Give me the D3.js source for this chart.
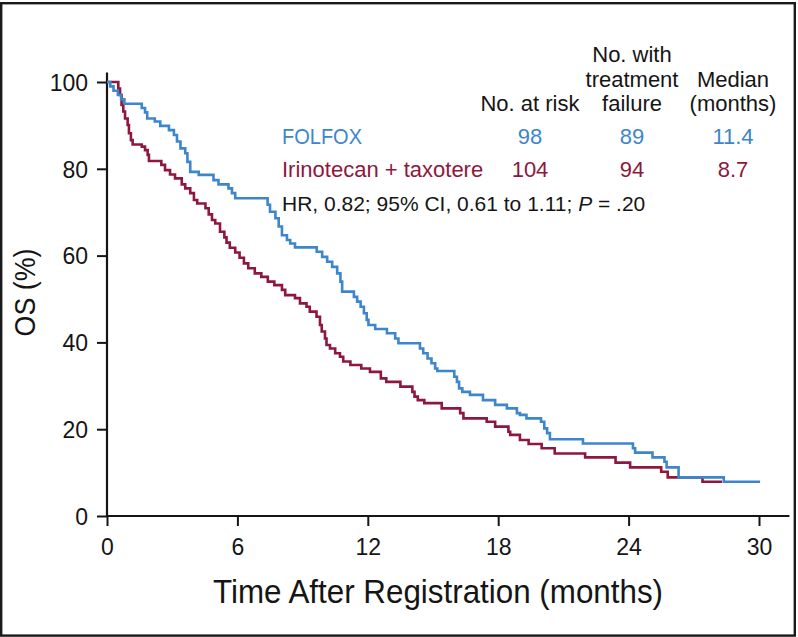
<!DOCTYPE html>
<html><head><meta charset="utf-8">
<script src="https://cdn.jsdelivr.net/npm/d3@7"></script>
<style>
html,body{margin:0;padding:0;background:#fff;}
svg{display:block;font-family:"Liberation Sans",Arial,Helvetica,sans-serif;}
</style></head>
<body><svg id="chart" width="798" height="637"></svg>
<script>
// ---- data ----
const xTicks = [0, 6, 12, 18, 24, 30];
const yTicks = [0, 20, 40, 60, 80, 100];
const xTitle = "Time After Registration (months)";
const yTitle = "OS (%)";

const folfoxTime = [0,0.15,0.3,0.5,0.65,0.8,1.6,1.75,1.85,2.2,2.45,2.85,3.08,3.22,3.38,3.6,3.7,3.83,4.22,4.9,5.13,5.59,5.75,5.9,
  7.39,7.5,7.75,7.9,8.05,8.28,8.43,8.65,9.65,9.9,10.13,10.36,10.59,10.74,10.82,11.36,11.51,11.67,11.82,11.95,12.03,12.34,12.88,13.26,13.41,
  14.4,14.55,14.75,14.93,15.1,15.2,15.98,16.1,16.2,16.35,16.7,17.3,17.86,18.4,18.86,19.0,19.3,19.97,20.12,20.25,20.38,
  21.9,24.2,24.3,25.1,25.65,25.75,26.3,28.38,30.05];
const folfoxSurv = [100,99,98,97,96,95,94,93,91.6,90.9,89.9,88.9,87.8,86.3,84.7,83.6,81.6,79.3,78.6,77.4,76.4,75.5,74.4,73.2,
  71.7,70.1,68.6,66.7,64.7,63.6,62.8,61.9,60.9,59.7,58.6,57.4,55.9,54.0,51.7,50.5,49.4,48.2,46.7,45.2,44.0,43.1,42.1,40.9,39.8,
  38.6,37.5,36.3,35.2,34.0,33.4,32.1,30.9,29.4,28.6,27.9,26.7,25.6,24.8,23.7,23.3,22.5,21.7,20.2,19.1,17.7,
  16.7,15.6,14.6,13.5,12.5,11.2,8.9,7.9,7.9];

const irinoTime = [0,0.52,0.6,0.67,0.75,0.83,0.95,1.01,1.1,1.18,1.6,1.75,1.87,1.93,2.5,2.67,2.9,3.13,3.44,3.6,3.83,4.0,4.15,4.53,4.68,4.83,4.98,
  5.2,5.4,5.5,5.65,5.9,6.1,6.3,6.5,6.8,7.1,7.4,7.7,8.05,8.2,8.65,8.88,9.18,9.33,9.64,9.8,9.88,10.03,10.1,10.26,10.5,10.72,10.87,
  11.2,11.7,12.1,12.6,12.85,13.5,14.05,14.15,14.3,14.6,15.4,16.25,16.4,17.47,17.86,18.47,18.55,19.0,19.4,20.0,20.6,
  22.0,23.4,24.07,25.5,25.8,27.4,28.3];
const irinoSurv = [100,98.5,97,94.7,93.2,91.6,90.1,88.2,86.6,85.6,85.1,84.3,83.2,81.8,80.9,79.7,78.7,77.8,76.4,75.5,74.4,72.8,72.0,70.9,69.5,68.2,67.4,
  65.5,64.2,63.0,61.8,60.7,59.5,58.2,57.1,55.9,55.1,54.0,53.2,52.1,50.9,50.2,49.0,48.2,47.1,45.9,44.0,42.5,40.9,39.4,38.6,37.5,36.7,35.6,
  34.8,34.0,33.2,31.7,30.9,29.8,28.6,27.5,26.7,26.0,24.8,23.7,22.5,21.7,20.6,19.4,18.7,17.5,16.6,15.6,14.4,
  13.5,12.3,11.2,10.2,8.9,7.9,7.9];

const seriesNames = ["FOLFOX", "Irinotecan + taxotere"];
const seriesColors = ["#3d86cb", "#8e1740"];
const headerCol1 = ["No. at risk"];
const headerCol2 = ["No. with", "treatment", "failure"];
const headerCol3 = ["Median", "(months)"];
const folfoxStats = ["98", "89", "11.4"];
const irinoStats = ["104", "94", "8.7"];
const hrText = ["HR, 0.82; 95% CI, 0.61 to 1.11; ", "P", " = .20"];

// ---- drawing ----
const svg = d3.select("#chart");
const W = 798, H = 637;
const ink = "#151515";

svg.append("rect").attr("x", 1.2).attr("y", 3.2).attr("width", W - 4.4).attr("height", H - 4.6)
  .attr("fill", "#fff").attr("stroke", "#1a1a1a").attr("stroke-width", 2.4);

const x = d3.scaleLinear().domain([0, 30]).range([107, 759]);
const y = d3.scaleLinear().domain([0, 100]).range([516, 82]);

// axis lines (extend slightly beyond the data range as in the original)
svg.append("line").attr("x1", x(0)).attr("x2", x(0)).attr("y1", y(0)).attr("y2", y(102.2))
  .attr("stroke", ink).attr("stroke-width", 2.2);
svg.append("line").attr("x1", x(0)).attr("x2", x(31.4)).attr("y1", y(0)).attr("y2", y(0))
  .attr("stroke", ink).attr("stroke-width", 2.2);

const yAxis = svg.append("g").attr("transform", `translate(${x(0)},0)`)
  .call(d3.axisLeft(y).tickValues(yTicks).tickSize(10).tickPadding(9).tickFormat(d3.format("d")));
const xAxis = svg.append("g").attr("transform", `translate(0,${y(0)})`)
  .call(d3.axisBottom(x).tickValues(xTicks).tickSize(10).tickPadding(13).tickFormat(d3.format("d")));
[yAxis, xAxis].forEach(g => {
  g.select(".domain").remove();
  g.selectAll(".tick line").attr("stroke", ink).attr("stroke-width", 2);
  g.selectAll(".tick text").attr("fill", ink).style("font-size", "23px")
    .style("font-family", '"Liberation Sans",Arial,sans-serif');
});
yAxis.selectAll(".tick text").attr("dy", "0.36em");

// axis titles
svg.append("text").attr("x", 438).attr("y", 603).attr("text-anchor", "middle")
  .attr("fill", ink).style("font-size", "34px")
  .attr("textLength", 450).attr("lengthAdjust", "spacingAndGlyphs").text(xTitle);
svg.append("text").attr("transform", "translate(35,292.5) rotate(-90)").attr("text-anchor", "middle")
  .attr("fill", ink).style("font-size", "30px")
  .attr("textLength", 88).attr("lengthAdjust", "spacingAndGlyphs").text(yTitle);

// curves
const line = d3.line().x(d => x(d[0])).y(d => y(d[1])).curve(d3.curveStepAfter);
const irinoData = d3.zip(irinoTime, irinoSurv);
const folfoxData = d3.zip(folfoxTime, folfoxSurv);
svg.append("path").datum(irinoData).attr("d", line).attr("fill", "none")
  .attr("stroke", seriesColors[1]).attr("stroke-width", 2.6);
svg.append("path").datum(folfoxData).attr("d", line).attr("fill", "none")
  .attr("stroke", seriesColors[0]).attr("stroke-width", 2.6);

// legend / table
const fs = "22px";
const colX = [530, 632, 733];
const rowY = [144, 177];
const headY = [61.7, 86.7, 111];
function header(lines, cx) {
  const offset = headY.length - lines.length;
  lines.forEach((t, i) => {
    svg.append("text").attr("x", cx).attr("y", headY[offset + i]).attr("text-anchor", "middle")
      .attr("fill", ink).style("font-size", fs).text(t);
  });
}
header(headerCol1, colX[0]);
header(headerCol2, colX[1]);
header(headerCol3, colX[2]);

[folfoxStats, irinoStats].forEach((row, r) => {
  const name = svg.append("text").attr("x", 282).attr("y", rowY[r]).attr("fill", seriesColors[r])
    .style("font-size", fs).text(seriesNames[r]);
  if (r === 0) name.attr("textLength", 80).attr("lengthAdjust", "spacingAndGlyphs");
  row.forEach((v, c) => {
    svg.append("text").attr("x", colX[c]).attr("y", rowY[r]).attr("text-anchor", "middle")
      .attr("fill", seriesColors[r]).style("font-size", fs).text(v);
  });
});

const hr = svg.append("text").attr("x", 282).attr("y", 210.7).attr("fill", ink).style("font-size", "21px")
  .attr("xml:space", "preserve");
hr.append("tspan").text(hrText[0]);
hr.append("tspan").style("font-style", "italic").text(hrText[1]);
hr.append("tspan").text(hrText[2]);
</script></body></html>
